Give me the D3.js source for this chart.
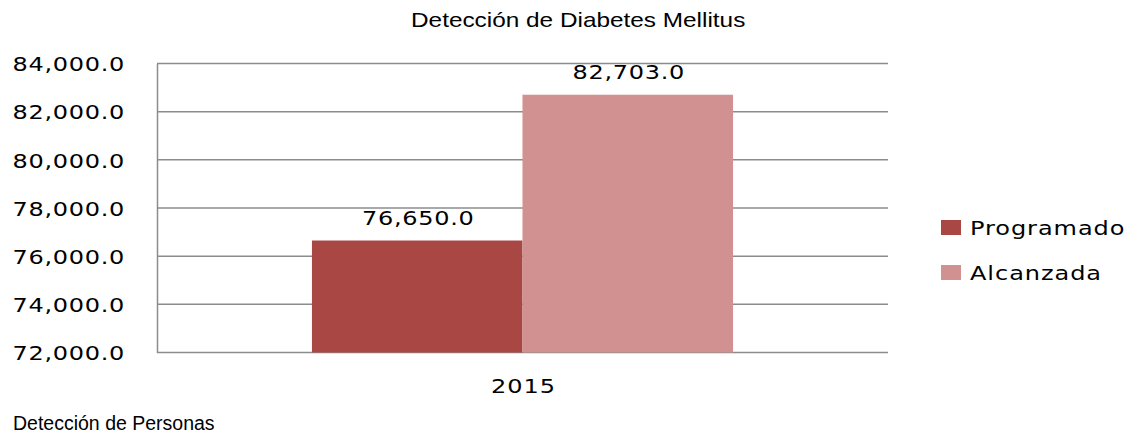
<!DOCTYPE html>
<html>
<head>
<meta charset="utf-8">
<script src="https://cdn.jsdelivr.net/npm/d3@7"></script>
<style>
  body { margin: 0; background: #fff; }
  text { fill: #000; }
</style>
</head>
<body>
<svg id="chart" width="1133" height="435"></svg>
<script>
var categories = ['2015']
var seriesNames = ['Programado', 'Alcanzada']
var seriesValues = [76650, 82703]
var seriesColors = ['#A94744', '#D19190']
var yTicks = [72000, 74000, 76000, 78000, 80000, 82000, 84000]

var svg = d3.select('#chart')
var plot = { left: 157, right: 888, top: 63.5, bottom: 352.5 }

var x0 = d3.scaleBand().domain(categories).range([plot.left, plot.right]).paddingInner(0).paddingOuter(0.368)
var x1 = d3.scaleBand().domain(seriesNames).range([0, x0.bandwidth()])
var y = d3.scaleLinear().domain([72000, 84000]).range([plot.bottom, plot.top])
var fmt = d3.format(',.1f')

/** the original picture is stretched sideways, so widen the glyphs the same way */
function stretch (sel, k) {
  sel.each(function () {
    var t = d3.select(this)
    var tx = +t.attr('x') || 0
    var ty = +t.attr('y') || 0
    t.attr('x', 0).attr('y', 0).attr('transform', 'translate(' + tx + ',' + ty + ') scale(' + k + ',1)')
  })
}

/** gridlines */
svg.append('g').selectAll('line').data(yTicks).enter().append('line')
  .attr('x1', plot.left).attr('x2', plot.right)
  .attr('y1', function (d) { return y(d) }).attr('y2', function (d) { return y(d) })
  .style('stroke', '#8c8c8c').style('stroke-width', '1.5')

/** bars */
var group = svg.append('g').selectAll('g').data(categories).enter().append('g')
  .attr('transform', function (d) { return 'translate(' + x0(d) + ',0)' })
group.selectAll('rect').data(function () {
  return seriesNames.map(function (s, si) { return { s: s, v: seriesValues[si], c: seriesColors[si] } })
}).enter().append('rect')
  .attr('x', function (d) { return x1(d.s) })
  .attr('width', x1.bandwidth())
  .attr('y', function (d) { return y(d.v) })
  .attr('height', function (d) { return y(72000) - y(d.v) })
  .style('fill', function (d) { return d.c })

/** value labels */
var vals = group.selectAll('text').data(function () {
  return seriesNames.map(function (s, si) { return { s: s, v: seriesValues[si] } })
}).enter().append('text')
  .attr('x', function (d) { return x1(d.s) + x1.bandwidth() / 2 + 1 })
  .attr('y', function (d) { return y(d.v) - 16 })
  .attr('text-anchor', 'middle')
  .style('font-family', 'DejaVu Sans').style('font-size', '20px').style('letter-spacing', '0.6px')
  .text(function (d) { return fmt(d.v) })
stretch(vals, 1.2)

/** y axis */
var yAxis = d3.axisLeft(y).tickValues(yTicks).tickFormat(fmt).tickSize(0).tickPadding(32)
var ya = svg.append('g').attr('transform', 'translate(' + plot.left + ',0)').call(yAxis)
ya.select('.domain').style('stroke', '#8c8c8c').style('stroke-width', '1.5')
var yt = ya.selectAll('text').style('font-family', 'DejaVu Sans').style('font-size', '20px')
  .style('letter-spacing', '0.6px').attr('dy', '0.36em')
stretch(yt, 1.2)

/** x axis */
var xAxis = d3.axisBottom(x0).tickSize(0).tickPadding(26)
var xa = svg.append('g').attr('transform', 'translate(1,' + plot.bottom + ')').call(xAxis)
xa.select('.domain').remove()
var xt = xa.selectAll('text').style('font-family', 'DejaVu Sans').style('font-size', '20px').style('letter-spacing', '0.8px')
stretch(xt, 1.2)

/** titles */
var title = svg.append('text').attr('x', 411).attr('y', 27)
  .style('font-family', 'Liberation Sans').style('font-size', '21px')
  .text('Detección de Diabetes Mellitus')
stretch(title, 1.16)
svg.append('text').attr('x', 13).attr('y', 430)
  .style('font-family', 'Liberation Sans').style('font-size', '19.5px')
  .text('Detección de Personas')

/** legend */
var legend = svg.append('g').selectAll('g').data(seriesNames).enter().append('g')
  .attr('transform', function (d, i) { return 'translate(941,' + (220 + i * 45) + ')' })
legend.append('rect').attr('width', 20).attr('height', 15)
  .style('fill', function (d, i) { return seriesColors[i] })
var lt = legend.append('text').attr('x', 29).attr('y', 15)
  .style('font-family', 'DejaVu Sans').style('font-size', '20px').style('letter-spacing', '0.8px')
  .text(function (d) { return d })
stretch(lt, 1.2)
</script>
</body>
</html>
